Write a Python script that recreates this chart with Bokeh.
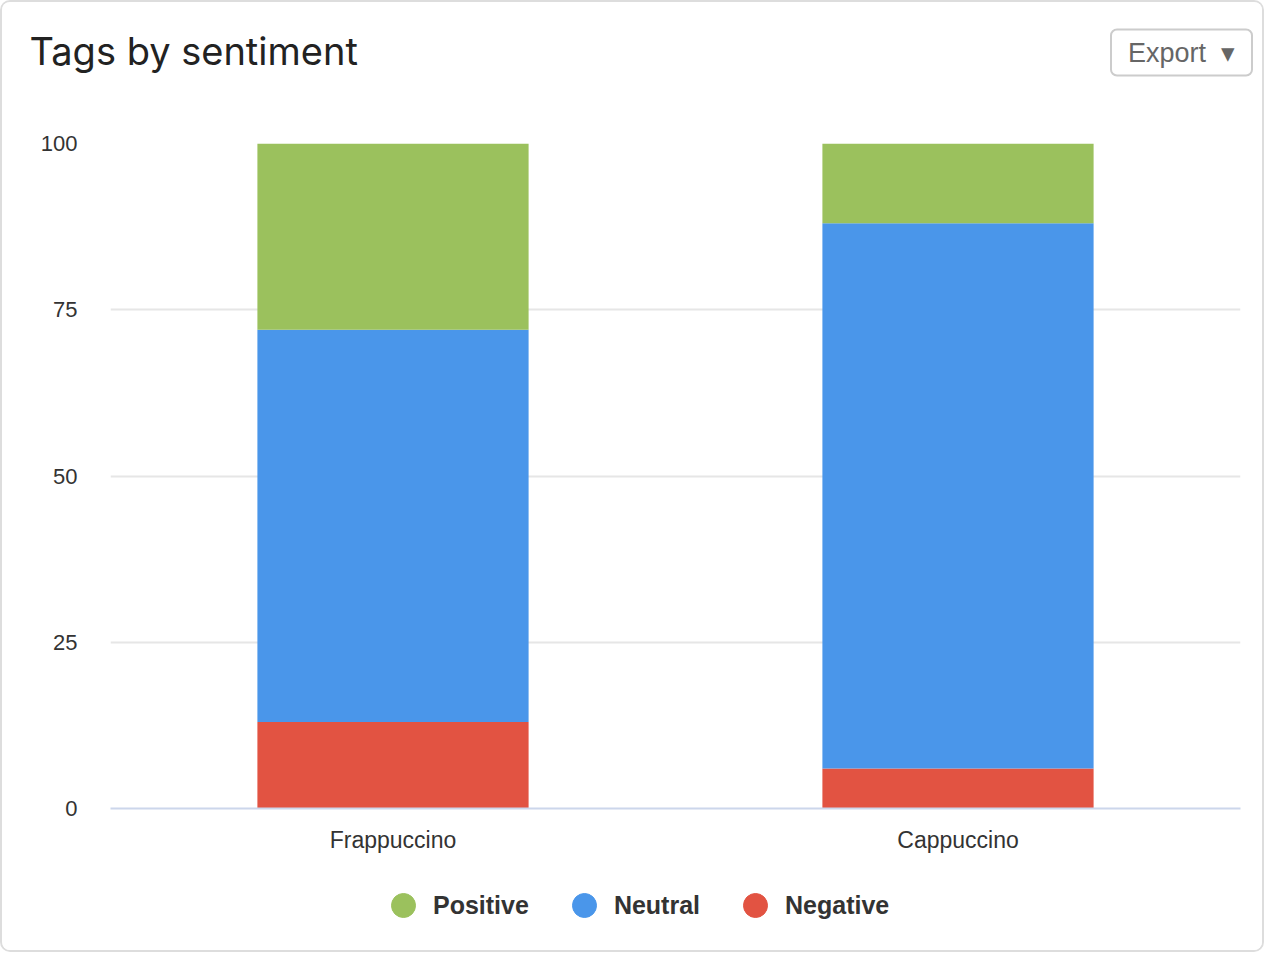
from bokeh.plotting import figure
from bokeh.layouts import column
from bokeh.models import Label, Legend, LegendItem, ColumnDataSource, FixedTicker, Range1d
from bokeh.embed import file_html
from bokeh.resources import INLINE

drinks = ["Frappuccino", "Cappuccino"]
negative = [13, 6]
neutral = [59, 82]
positive = [28, 12]
series = ["Negative", "Neutral", "Positive"]
colors = ["#E25342", "#4A96EA", "#9BC15D"]
y_ticks = [0, 25, 50, 75, 100]
legend_order = ["Positive", "Neutral", "Negative"]

W = 1260


def blank(height):
    f = figure(width=W, height=height, x_range=Range1d(0, W), y_range=Range1d(0, height),
               output_backend="svg", toolbar_location=None, x_axis_type=None, y_axis_type=None,
               min_border=0, min_border_left=0, min_border_right=0, min_border_top=0, min_border_bottom=0)
    f.outline_line_color = None
    f.grid.visible = False
    f.border_fill_color = "white"
    f.background_fill_color = "white"
    f.frame_align = False
    return f


# header: title and export button
header = blank(100)
header.add_layout(Label(x=27, y=52, x_units="screen", y_units="screen", text="Tags by sentiment",
                        text_font="Inter", text_font_size="38px", text_color="#222222",
                        text_baseline="alphabetic", text_align="left"))
header.add_layout(Label(x=1179, y=50, x_units="screen", y_units="screen",
                        text="Export\u00a0\u00a0\u25be",
                        text_font="Liberation Sans", text_font_size="27px", text_color="#666666",
                        text_align="center", text_baseline="middle",
                        border_line_color="#CCCCCC", border_line_width=2, border_radius=6,
                        background_fill_color="white", padding=dict(x=17, y=8)))

# main chart
source = ColumnDataSource(dict(drink=drinks, Negative=negative, Neutral=neutral, Positive=positive))
p = figure(x_range=drinks, y_range=(0, 100), width=W, height=770,
           output_backend="svg", toolbar_location=None,
           min_border_left=108, min_border_right=22, min_border_top=41, min_border_bottom=64)
p.outline_line_color = None
p.border_fill_color = "white"
p.background_fill_color = "white"
p.frame_align = False

renderers = p.vbar_stack(series, x="drink", width=0.48, color=colors, line_color=None, source=source)

p.yaxis.ticker = FixedTicker(ticks=y_ticks)
p.yaxis.axis_line_color = None
p.yaxis.major_tick_line_color = None
p.yaxis.minor_tick_line_color = None
p.yaxis.major_tick_out = 0
p.yaxis.minor_tick_out = 0
p.yaxis.major_label_standoff = 33
p.yaxis.major_label_text_font = "Liberation Sans"
p.yaxis.major_label_text_font_size = "22px"
p.yaxis.major_label_text_color = "#333333"

p.xaxis.axis_line_color = "#CCD6EB"
p.xaxis.axis_line_width = 2
p.xaxis.major_tick_line_color = None
p.xaxis.minor_tick_line_color = None
p.xaxis.major_tick_out = 0
p.xaxis.minor_tick_out = 0
p.xaxis.major_label_standoff = 18
p.xaxis.major_label_text_font = "Liberation Sans"
p.xaxis.major_label_text_font_size = "23px"
p.xaxis.major_label_text_color = "#333333"

p.xgrid.grid_line_color = None
p.ygrid.grid_line_color = "#E6E6E6"
p.ygrid.grid_line_width = 2

# footer: legend with circle markers (proxy renderers kept outside the visible range)
footer = blank(78)
proxy = ColumnDataSource(dict(x=[-1000], y=[-1000]))
items = []
for name in legend_order:
    col = colors[series.index(name)]
    r = footer.scatter(x="x", y="y", source=proxy, marker="circle", size=24, color=col)
    items.append(LegendItem(label=name, renderers=[r]))
legend = Legend(items=items, orientation="horizontal", location=(371, 15),
                glyph_width=60, glyph_height=60, label_height=60, label_standoff=-4,
                spacing=25, padding=0, margin=0, border_line_color=None,
                background_fill_alpha=0,
                label_text_font="Liberation Sans", label_text_font_style="bold",
                label_text_font_size="25px", label_text_color="#333333")
footer.add_layout(legend, "center")

layout = column(header, p, footer, spacing=0,
                styles={"border": "2px solid #DDDDDD", "border-radius": "10px", "overflow": "hidden"})

open("out.html", "w").write(file_html(layout, INLINE))
